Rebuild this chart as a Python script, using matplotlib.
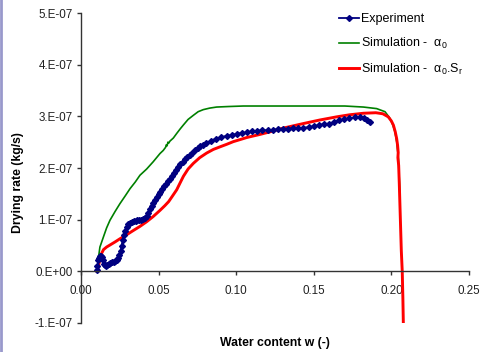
import matplotlib
matplotlib.use('Agg')
import matplotlib.pyplot as plt
from matplotlib.lines import Line2D
import numpy as np

plt.rcParams['font.family'] = ['Liberation Sans', 'DejaVu Sans']

# ---------------- data (rate in 1E-07 kg/s) ----------------
exp_w = [0.0101, 0.0106, 0.0112, 0.0118, 0.0125, 0.0132, 0.0138, 0.0143, 0.0148, 0.0155,
         0.0162, 0.0170, 0.0180, 0.0190, 0.0200, 0.0210, 0.0220, 0.0230, 0.0240, 0.0248,
         0.0255, 0.0262, 0.0268, 0.0275, 0.0284, 0.0294, 0.0305, 0.0316, 0.0328, 0.0340,
         0.0352, 0.0364, 0.0376, 0.0388, 0.0400, 0.0412, 0.0423, 0.0434, 0.0445, 0.0456,
         0.0467, 0.0478, 0.0489, 0.0500, 0.0512, 0.0524, 0.0536, 0.0548, 0.0560, 0.0572,
         0.0585, 0.0598, 0.0612, 0.0626, 0.0640, 0.0655, 0.0670, 0.0686, 0.0702, 0.0718,
         0.0735, 0.0752, 0.0770, 0.0788, 0.0806, 0.0839, 0.0872, 0.0905, 0.0938, 0.0971,
         0.1004, 0.1037, 0.1070, 0.1103, 0.1136, 0.1169, 0.1202, 0.1235, 0.1268, 0.1301,
         0.1334, 0.1367, 0.1400, 0.1433, 0.1466, 0.1499, 0.1532, 0.1565, 0.1598, 0.1631,
         0.1664, 0.1697, 0.1730, 0.1763, 0.1796, 0.1826, 0.1846, 0.1860]
exp_rate = [0.02, 0.10, 0.21, 0.26, 0.29, 0.30, 0.28, 0.22, 0.15, 0.12,
            0.11, 0.12, 0.14, 0.16, 0.18, 0.19, 0.20, 0.22, 0.26, 0.31,
            0.39, 0.50, 0.60, 0.70, 0.78, 0.86, 0.91, 0.94, 0.96, 0.97,
            0.98, 0.99, 0.99, 1.00, 1.01, 1.03, 1.08, 1.13, 1.20, 1.27,
            1.33, 1.39, 1.44, 1.49, 1.54, 1.60, 1.65, 1.70, 1.74, 1.79,
            1.84, 1.90, 1.96, 2.01, 2.07, 2.12, 2.17, 2.22, 2.26, 2.30,
            2.34, 2.38, 2.42, 2.45, 2.48, 2.53, 2.57, 2.60, 2.62, 2.64,
            2.66, 2.68, 2.69, 2.71, 2.72, 2.73, 2.73, 2.74, 2.75, 2.76,
            2.76, 2.77, 2.77, 2.78, 2.79, 2.81, 2.83, 2.85, 2.86, 2.89,
            2.92, 2.95, 2.96, 2.98, 2.98, 2.96, 2.93, 2.89]

sim_a0_w = [0.0105, 0.0112, 0.0122, 0.0144, 0.0165, 0.0187, 0.0220, 0.0251, 0.0285, 0.0316,
            0.0350, 0.0380, 0.0423, 0.0465, 0.0509, 0.0530, 0.0545, 0.0550, 0.0555, 0.0560,
            0.0565, 0.0573, 0.0595, 0.0617, 0.0640, 0.0659, 0.0690, 0.0724, 0.0755, 0.0788,
            0.0830, 0.0874, 0.0950, 0.1046, 0.1400, 0.1700, 0.1820, 0.1905, 0.1959, 0.1991,
            0.2010, 0.2023, 0.2035, 0.2045, 0.2055]
sim_a0_rate = [0.05, 0.25, 0.47, 0.66, 0.84, 0.99, 1.16, 1.31, 1.46, 1.60,
               1.73, 1.86, 1.98, 2.12, 2.28, 2.34, 2.40, 2.45, 2.43, 2.50,
               2.48, 2.52, 2.58, 2.67, 2.76, 2.83, 2.94, 3.02, 3.09, 3.13,
               3.16, 3.18, 3.19, 3.20, 3.20, 3.20, 3.18, 3.15, 3.09, 2.96,
               2.83, 2.70, 2.50, 2.20, 1.50]

sim_a0sr_w = [0.0105, 0.0118, 0.0130, 0.0145, 0.0165, 0.0187, 0.0220, 0.0251, 0.0290, 0.0337,
              0.0380, 0.0423, 0.0465, 0.0509, 0.0540, 0.0565, 0.0590, 0.0617, 0.0640, 0.0660,
              0.0690, 0.0724, 0.0765, 0.0810, 0.0853, 0.0896, 0.0940, 0.0981, 0.1025, 0.1068,
              0.1110, 0.1153, 0.1218, 0.1300, 0.1432, 0.1540, 0.1647, 0.1730, 0.1820, 0.1900,
              0.1945, 0.1980, 0.2000, 0.2013, 0.2025, 0.2034, 0.2040, 0.2044, 0.2042, 0.2047,
              0.2051, 0.2058, 0.2064, 0.2070, 0.2074, 0.2077]
sim_a0sr_rate = [0.00, 0.18, 0.33, 0.42, 0.47, 0.51, 0.57, 0.63, 0.70, 0.79,
                 0.87, 0.96, 1.06, 1.18, 1.27, 1.35, 1.46, 1.58, 1.72, 1.84,
                 1.98, 2.09, 2.20, 2.29, 2.36, 2.41, 2.46, 2.51, 2.55, 2.59,
                 2.62, 2.65, 2.70, 2.77, 2.86, 2.93, 2.99, 3.03, 3.06, 3.07,
                 3.05, 2.99, 2.91, 2.83, 2.70, 2.57, 2.44, 2.30, 2.20, 2.05,
                 1.70, 1.00, 0.40, 0.00, -0.50, -1.00]

y_ticks = [-1, 0, 1, 2, 3, 4, 5]
y_ticklabels = ['-1.E-07', '0.E+00', '1.E-07', '2.E-07', '3.E-07', '4.E-07', '5.E-07']
x_ticks = [0.00, 0.05, 0.10, 0.15, 0.20, 0.25]

scale = 1e-7

fig = plt.figure(figsize=(4.92, 3.52), dpi=100)
ax = fig.add_axes([0.1646, 0.0824, 0.7886, 0.8806])

ax.plot(sim_a0_w, np.array(sim_a0_rate) * scale, color='#008000', lw=1.2,
        label='Simulation -  α$_\\mathregular{0}$')
ax.plot(sim_a0sr_w, np.array(sim_a0sr_rate) * scale, color='#ff0000', lw=2.1,
        label='Simulation -  α$_\\mathregular{0}$.S$_\\mathregular{r}$')
ax.plot(exp_w, np.array(exp_rate) * scale, color='#000080', lw=1.3, marker='D',
        markersize=3, label='Experiment')

ax.set_xlim(0, 0.25)
ax.set_ylim(-1 * scale, 5 * scale)
ax.set_xticks(x_ticks)
ax.set_xticklabels(['%.2f' % v for v in x_ticks])
ax.set_yticks([v * scale for v in y_ticks])
ax.set_yticklabels(y_ticklabels)

ax.spines['top'].set_visible(False)
ax.spines['right'].set_visible(False)
ax.spines['bottom'].set_position(('data', 0))
for s in ['left', 'bottom']:
    ax.spines[s].set_color('#333333')
    ax.spines[s].set_linewidth(1.0)
ax.tick_params(axis='x', direction='out', length=3, width=1, colors='#333333',
               labelcolor='#222222', labelsize=8.4, pad=7)
ax.tick_params(axis='y', direction='out', length=3, width=1, colors='#333333',
               labelcolor='#222222', labelsize=8.4, pad=3)

fig.text(0.036, 0.482, 'Drying rate (kg/s)', rotation=90, ha='center', va='center',
         fontsize=8.8, fontweight='bold')
fig.text(0.559, 0.026, 'Water content w (-)', ha='center', va='center',
         fontsize=8.8, fontweight='bold')

h, l = ax.get_legend_handles_labels()
order = [2, 0, 1]
ax.legend([h[i] for i in order], [l[i] for i in order], loc='upper left',
          bbox_to_anchor=(0.652, 1.015), frameon=False, fontsize=9,
          handlelength=1.6, handletextpad=0.15, labelspacing=0.85, borderaxespad=0)

# light border on the left edge
fig.add_artist(Line2D([0.003, 0.003], [0, 1], transform=fig.transFigure,
                      color='#9999cc', lw=2))

fig.savefig('out.png', dpi=100)
